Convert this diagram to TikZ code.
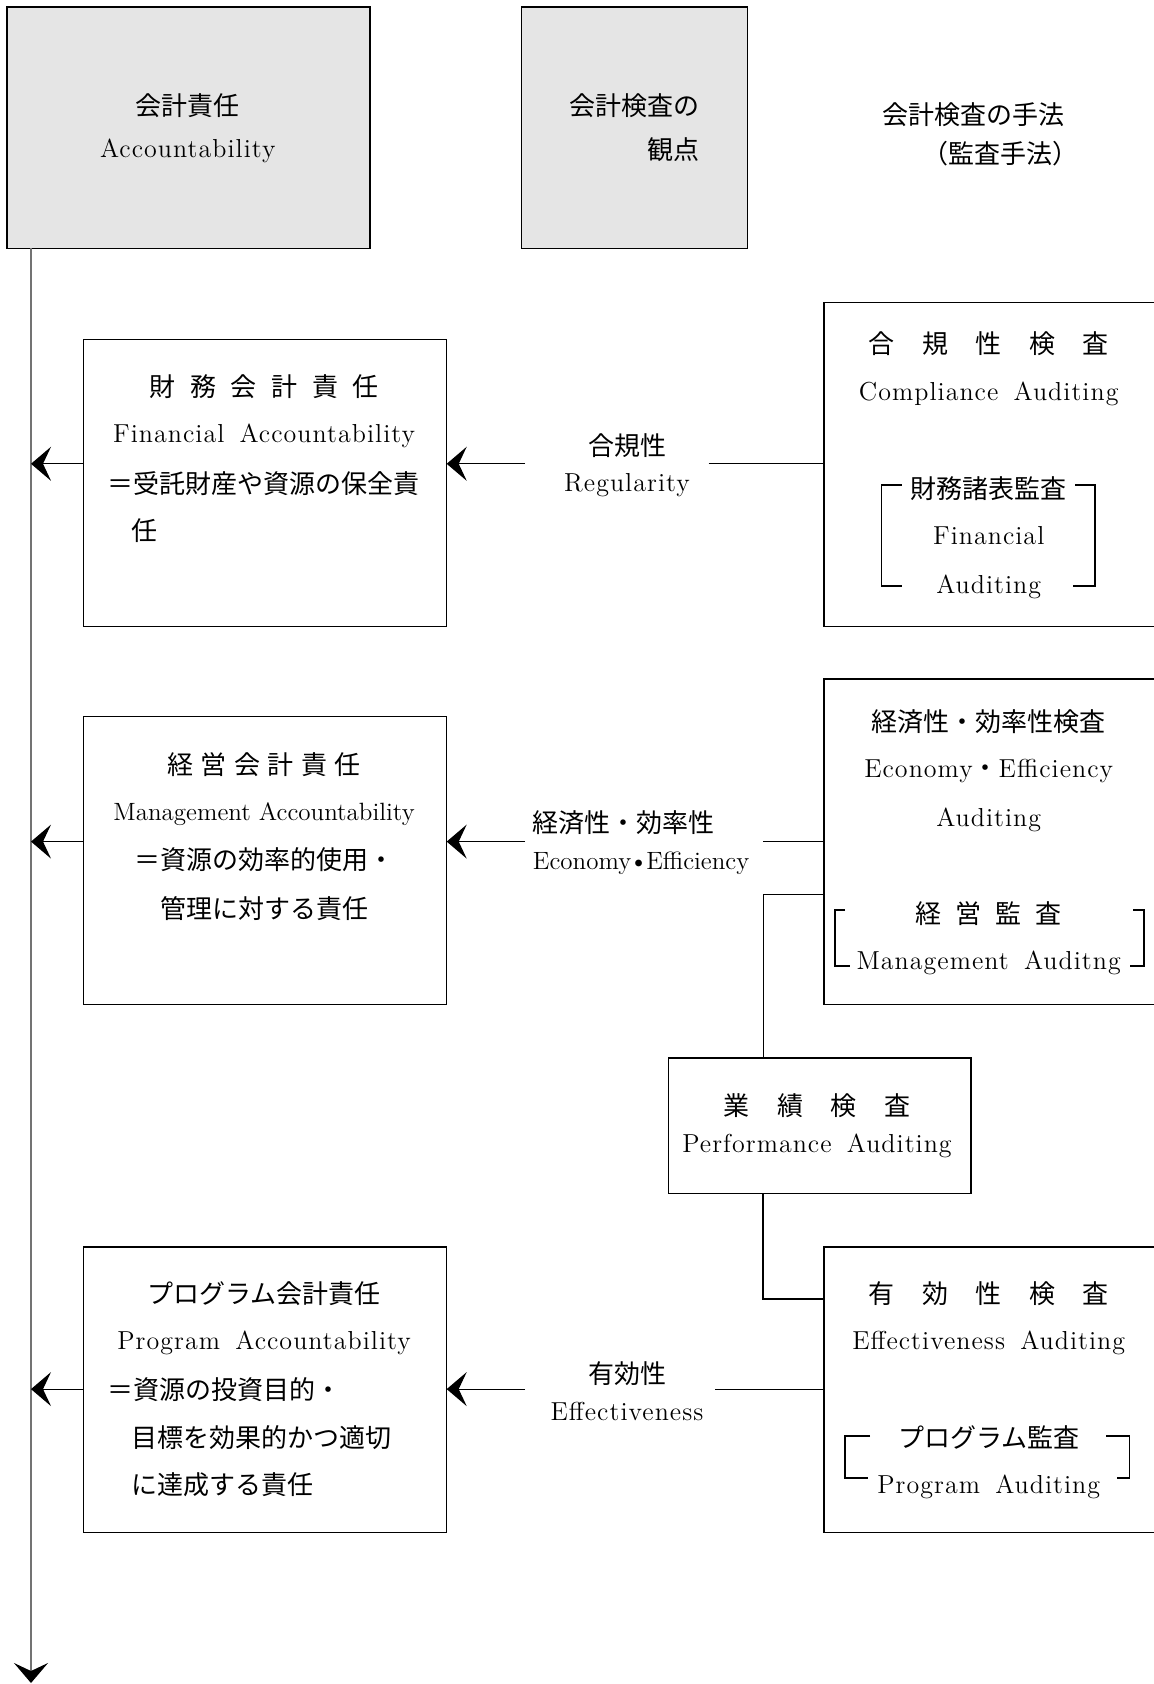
\documentclass[tikz,border=0pt]{standalone}
\usepackage{fontspec}
\setmainfont{Latin Modern Roman}[LetterSpace=4,WordSpace=1.6]
\newfontfamily\lmplain{Latin Modern Roman}
\newfontfamily\cjk{Noto Sans CJK JP}
\usetikzlibrary{arrows.meta}
\newcommand\jg[1]{\hspace{#1}}
\tikzset{
  box/.style={draw=black, line width=0.6pt, inner sep=0pt, anchor=north west},
  hdrbox/.style={box, fill=black!10},
  jp/.style={anchor=base, inner sep=0pt, font=\cjk\fontsize{13}{16}\selectfont},
  jpw/.style={jp, anchor=base west},
  jpe/.style={jp, anchor=base east},
  la/.style={anchor=base, inner sep=0pt, font=\fontsize{13}{15}\selectfont},
  lap/.style={anchor=base, inner sep=0pt, font=\lmplain\fontsize{12.5}{15}\selectfont},
  conn/.style={line width=0.6pt, draw=black},
  arr/.style={conn, -{Stealth[length=10pt,width=17pt,inset=4pt,color=black]}},
  brk/.style={line width=0.6pt, draw=black},
}
\begin{document}
\begin{tikzpicture}[x=0.5pt,y=-0.5pt]
\useasboundingbox (0,0) rectangle (1154,1684);
\clip (0,0) rectangle (1154,1684);

% ---------- header boxes ----------
\node[hdrbox, minimum width=181.45pt, minimum height=120.8pt] (acc) at (6.4,6.4) {};
\node[hdrbox, minimum width=113.25pt, minimum height=120.8pt] (view) at (520.7,6.4) {};
\node[jp] (acc1) at (187.8,115.1) {会計責任};
\node[la] (acc2) at (187.8,157.2) {Accountability};
\node[jpe] (view1) at (700,115.1) {会計検査の};
\node[jpe] (view2) at (700,159.1) {観点};
\node[jp] (meth1) at (973.6,124.8) {会計検査の手法};
\node[jp] (meth2) at (1000.5,163.4) {（監査手法）};

% ---------- left boxes ----------
\node[box, minimum width=181.4pt, minimum height=143.35pt] (fa) at (82.7,339.2) {};
\node[box, minimum width=181.4pt, minimum height=143.85pt] (ma) at (82.7,716.0) {};
\node[box, minimum width=181.4pt, minimum height=142.8pt] (pa) at (82.7,1246.3) {};

\node[jp] (fa1) at (264.1,396.4) {財\jg{7.3pt}務\jg{7.3pt}会\jg{7.3pt}計\jg{7.3pt}責\jg{7.3pt}任};
\node[la] (fa2) at (264.1,442.8) {Financial Accountability};
\node[jpw] (fa3) at (107.4,493.0) {＝受託財産や資源の保全責};
\node[jpw] (fa4) at (131,540.2) {任};

\node[jp] (ma1) at (264.1,774.2) {経\jg{3.75pt}営\jg{3.75pt}会\jg{3.75pt}計\jg{3.75pt}責\jg{3.75pt}任};
\node[lap] (ma2) at (264.1,820.6) {Management Accountability};
\node[jp] (ma3) at (264.1,869.8) {＝資源の効率的使用・};
\node[jp] (ma4) at (264.1,918.1) {管理に対する責任};

\node[jp] (pa1) at (264.1,1303.5) {プログラム会計責任};
\node[la] (pa2) at (264.1,1349.9) {Program Accountability};
\node[jpw] (pa3) at (107.4,1399.0) {＝資源の投資目的・};
\node[jpw] (pa4) at (131,1447.3) {目標を効果的かつ適切};
\node[jpw] (pa5) at (131,1494.6) {に達成する責任};

% ---------- middle labels ----------
\node[jp] (lab1a) at (627,455.4) {合規性};
\node[la] (lab1b) at (627,491.1) {Regularity};
\node[jpw] (lab2a) at (532.5,832.2) {経済性・効率性};
\node[lap, anchor=base west] (lab2b) at (532.5,869) {Economy\kern-1pt\textbullet\kern-1pt Efficiency};
\node[jp] (lab3a) at (627,1383.9) {有効性};
\node[la] (lab3b) at (627,1420.7) {Effectiveness};

% ---------- right boxes ----------
\node[box, minimum width=168.3pt, minimum height=162.1pt] (ra) at (823.4,301.7) {};
\node[box, minimum width=168.3pt, minimum height=162.65pt] (rb) at (823.4,678.4) {};
\node[box, minimum width=168.3pt, minimum height=142.8pt] (rc) at (823.4,1246.3) {};
\node[box, minimum width=151.35pt, minimum height=67.65pt] (perf) at (667.7,1057.4) {};

\node[jp] (ra1) at (988.7,353.4) {合\jg{13.7pt}規\jg{13.7pt}性\jg{13.7pt}検\jg{13.7pt}査};
\node[la] (ra2) at (988.7,400.9) {Compliance Auditing};
\node[jp] (ra3) at (988.7,498.3) {財務諸表監査};
\node[la] (ra4) at (988.7,544.8) {Financial};
\node[la] (ra5) at (988.7,593.0) {Auditing};

\node[jp] (rb1) at (988.7,731.3) {経済性・効率性検査};
\node[la] (rb2) at (988.7,777.7) {Economy{\cjk ・}Efficiency};
\node[la] (rb3) at (988.7,826.0) {Auditing};
\node[jp] (rb4) at (988.7,923.5) {経\jg{7pt}営\jg{7pt}監\jg{7pt}査};
\node[la] (rb5) at (988.7,969.9) {Management Auditng};

\node[jp] (pf1) at (817,1115.6) {業\jg{13.85pt}績\jg{13.85pt}検\jg{13.85pt}査};
\node[la] (pf2) at (817,1152.4) {Performance Auditing};

\node[jp] (rc1) at (988.7,1303.5) {有\jg{13.7pt}効\jg{13.7pt}性\jg{13.7pt}検\jg{13.7pt}査};
\node[la] (rc2) at (988.7,1349.9) {Effectiveness Auditing};
\node[jp] (rc3) at (988.7,1447.3) {プログラム監査};
\node[la] (rc4) at (988.7,1493.7) {Program Auditing};

% ---------- brackets ----------
\draw[brk] (901.7,485) -- (881.7,485) -- (881.7,586) -- (901.7,586);
\draw[brk] (1075,485) -- (1095,485) -- (1095,586) -- (1073,586);
\draw[brk] (845,910) -- (835,910) -- (835,966) -- (850,966);
\draw[brk] (1133,910) -- (1144,910) -- (1144,966) -- (1130,966);
\draw[brk] (870,1436) -- (845,1436) -- (845,1478) -- (868,1478);
\draw[brk] (1106,1436) -- (1129.3,1436) -- (1129.3,1478) -- (1116.7,1478);

% ---------- coordinates ----------
\coordinate (vtop) at (31,248);
\coordinate (vbot) at (31,1683);
\coordinate (r1) at (0,463.8);
\coordinate (r2) at (0,841.6);
\coordinate (r3) at (0,1389.1);
\coordinate (a1) at (525,463.8);
\coordinate (a2) at (525,841.6);
\coordinate (a3) at (525,1389.1);
\coordinate (b1) at (708.5,463.8);
\coordinate (b2) at (763.3,841.6);
\coordinate (b3) at (715,1389.1);
\coordinate (jx) at (763.3,0);
\coordinate (jy1) at (0,894.2);
\coordinate (jy2) at (0,1299);

% ---------- connectors ----------
\draw[arr, draw=black!55] (vtop) -- (vbot);
\draw[arr] (fa.west |- r1) -- (vtop |- r1);
\draw[arr] (ma.west |- r2) -- (vtop |- r2);
\draw[arr] (pa.west |- r3) -- (vtop |- r3);
\draw[arr] (a1) -- (fa.east |- r1);
\draw[arr] (a2) -- (ma.east |- r2);
\draw[arr] (a3) -- (pa.east |- r3);
\draw[conn] (b1) -- (ra.west |- b1);
\draw[conn] (b2) -- (rb.west |- b2);
\draw[conn] (b3) -- (rc.west |- b3);
\draw[conn] (rb.west |- jy1) -| (jx |- perf.north);
\draw[conn, line width=0.9pt] (jx |- perf.south) |- (rc.west |- jy2);
\end{tikzpicture}
\end{document}
